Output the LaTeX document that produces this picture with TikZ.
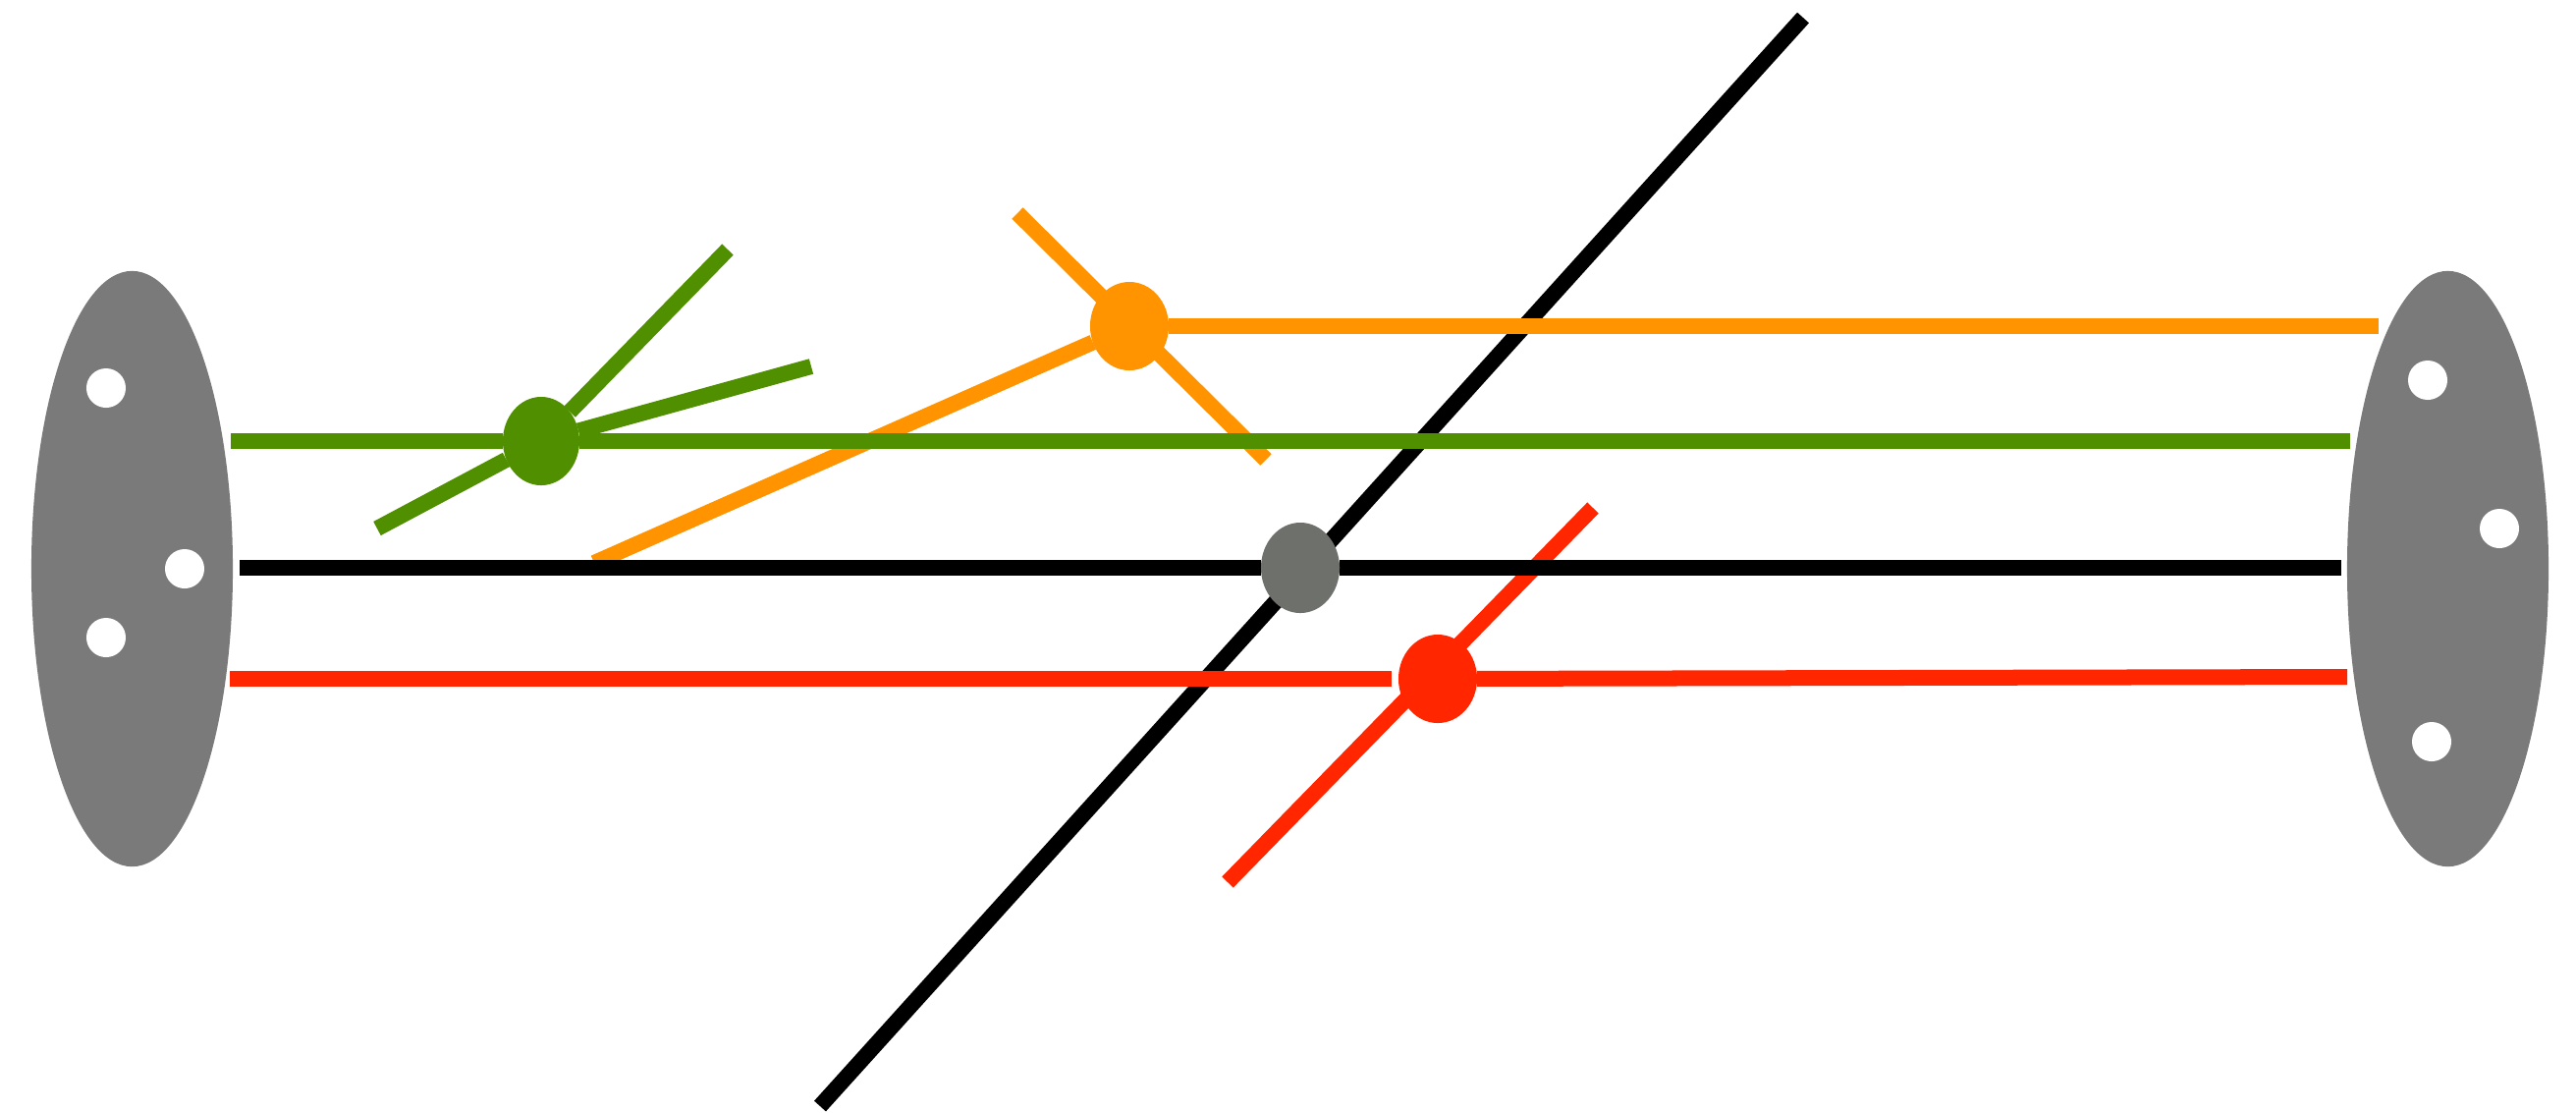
\documentclass[tikz,border=0pt]{standalone}
\usetikzlibrary{shapes.geometric,backgrounds}
\definecolor{cgreen}{HTML}{4F8F00}
\definecolor{corange}{HTML}{FF9300}
\definecolor{cred}{HTML}{FF2600}
\definecolor{cplate}{HTML}{7A7A7A}
\definecolor{cnode}{HTML}{6E706C}
\tikzset{
  plate/.style={ellipse, fill=cplate, draw=none, minimum width=2.05cm, minimum height=6.06cm, inner sep=0pt, outer sep=0pt},
  hole/.style={circle, fill=white, draw=none, minimum size=0.40cm, inner sep=0pt},
  vertex/.style={ellipse, draw=none, minimum width=0.80cm, minimum height=0.90cm, inner sep=0pt, outer sep=0pt},
  wire/.style={line width=0.16cm, line cap=butt}
}
\begin{document}
\begin{tikzpicture}[x=0.01cm, y=-0.01cm]
\useasboundingbox (0,0) rectangle (2623,1132);
% plates
\node[plate] (L) at (134.5,579) {};
\node[plate] (R) at (2492.5,579) {};
\node[hole] (l1) at (108,395) {};
\node[hole] (l2) at (188,579) {};
\node[hole] (l3) at (108,649) {};
\node[hole] (r1) at (2472,387) {};
\node[hole] (r2) at (2545,538) {};
\node[hole] (r3) at (2476,755) {};
% vertices
\node[vertex, fill=cgreen, minimum width=0.78cm] (g) at (551,449) {};
\node[vertex, fill=corange] (o) at (1150,332) {};
\node[vertex, fill=cnode, minimum height=0.92cm] (k) at (1324,578) {};
\node[vertex, fill=cred] (r) at (1464,691) {};
% free ends
\coordinate (gA) at (384,538);
\coordinate (gB) at (741,254);
\coordinate (gC) at (826,373);
\coordinate (gL) at (235,449);
\coordinate (gR) at (2393,449);
\coordinate (oA) at (605,573);
\coordinate (oB) at (1036,217);
\coordinate (oC) at (1289,468);
\coordinate (oR) at (2422,332);
\coordinate (kL) at (244,578);
\coordinate (kR) at (2384,578);
\coordinate (kA) at (835,1126);
\coordinate (kB) at (1836,18);
\coordinate (rL) at (234,691);
\coordinate (rR) at (2390,689);
\coordinate (rA) at (1250,898);
\coordinate (rB) at (1622,517);
\begin{scope}[on background layer]
% diagonals (straight, passing under the vertices)
\draw[wire, cred] (rA) -- (rB);
\draw[wire, corange] (oB) -- (oC);
\draw[wire, corange] (oA) -- (o);
\draw[wire, black] (kA) -- (kB);
\draw[wire, cgreen] (gA) -- (g);
\draw[wire, cgreen] (g) -- (gB);
\draw[wire, cgreen] (g) -- (gC);
% horizontals
\draw[wire, corange] (o) -- (oR);
\draw[wire, black] (kL) -- (k) -- (kR);
\draw[wire, cgreen] (gL) -- (g) -- (gR);
\draw[wire, cred, shorten >=2pt] (rL) -- (r);
\draw[wire, cred] (r) -- (rR);
\end{scope}
\end{tikzpicture}
\end{document}
